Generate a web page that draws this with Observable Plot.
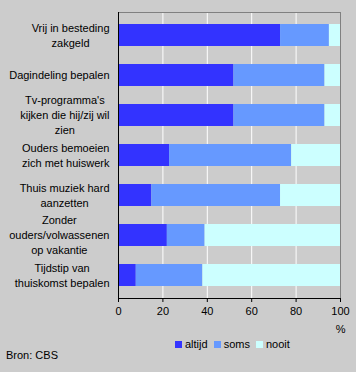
<!DOCTYPE html>
<html>
<head>
<meta charset="utf-8">
<script src="https://cdn.jsdelivr.net/npm/d3@7"></script>
<script src="https://cdn.jsdelivr.net/npm/@observablehq/plot@0.6"></script>
<style>
  html, body { margin: 0; padding: 0; background: #cccccc; }
  #wrap { position: relative; width: 356px; height: 372px; background: #cccccc; font-family: "Liberation Sans", Arial, sans-serif; color: #000; overflow: hidden; }
  #chart { position: absolute; left: 0; top: 0; }
  #legend { position: absolute; left: 175px; top: 338px; display: flex; align-items: center; font-size: 11px; }
  #legend .item { display: flex; align-items: center; margin-right: 6px; }
  #legend .sw { width: 7px; height: 7px; margin-right: 3px; }
  #caption { position: absolute; left: 6px; top: 349px; font-size: 11px; }
</style>
</head>
<body>
<div id="wrap">
  <div id="chart"></div>
  <div id="legend"></div>
  <div id="caption">Bron: CBS</div>
</div>
<script>
const categories = [
  "Vrij in besteding\nzakgeld",
  "Dagindeling bepalen",
  "Tv-programma's\nkijken die hij/zij wil\nzien",
  "Ouders bemoeien\nzich met huiswerk",
  "Thuis muziek hard\naanzetten",
  "Zonder\nouders/volwassenen\nop vakantie",
  "Tijdstip van\nthuiskomst bepalen"
];
const seriesNames = ["altijd", "soms", "nooit"];
const altijd = [73, 52, 52, 23, 15, 22, 8];
const soms   = [22, 41, 41, 55, 58, 17, 30];
const nooit  = [5, 7, 7, 22, 27, 61, 62];
const colors = ["#3333ff", "#6699ff", "#ccffff"];
const xTicks = [0, 20, 40, 60, 80, 100];

const seriesValues = [altijd, soms, nooit];
const data = [];
seriesNames.forEach((s, si) => {
  categories.forEach((c, ci) => data.push({category: c, series: s, value: seriesValues[si][ci]}));
});

const W = 356, mL = 118, mR = 16, labelGap = 9, lineStep = 15;
const pxPerUnit = (W - mL - mR) / 100;

// measure text so every line is centred inside a right-aligned label block
const ctx = document.createElement("canvas").getContext("2d");
ctx.font = "11px 'Liberation Sans', Arial, sans-serif";
function lineWidth(s) {
  let w = 0;
  try { w = ctx.measureText(s).width; } catch (e) { w = 0; }
  return w > 0 ? w : s.length * 5.5;
}
const lineRows = [];
categories.forEach(c => {
  const lines = c.split("\n");
  const widths = lines.map(lineWidth);
  const maxW = Math.max(...widths);
  lines.forEach((ln, i) => {
    const rightPx = -(labelGap + (maxW - widths[i]) / 2);
    lineRows.push({category: c, text: ln, xr: rightPx / pxPerUnit, off: (i - (lines.length - 1) / 2) * lineStep});
  });
});
const offsets = Array.from(new Set(lineRows.map(d => d.off)));
const labelMarks = offsets.map(o =>
  Plot.text(lineRows.filter(d => d.off === o), {
    x: "xr", y: "category", text: "text", dy: o,
    textAnchor: "end", lineAnchor: "middle", fontSize: 11, fill: "#000"
  })
);

const plot = Plot.plot({
  width: W,
  height: 338,
  marginLeft: mL,
  marginRight: mR,
  marginTop: 12,
  marginBottom: 40,
  style: {background: "transparent", fontFamily: "'Liberation Sans', Arial, sans-serif", fontSize: "11px", color: "#000"},
  x: {domain: [0, 100], ticks: xTicks},
  y: {domain: categories, paddingInner: 0.44, paddingOuter: 0.22, axis: null},
  color: {domain: seriesNames, range: colors},
  marks: [
    Plot.gridX(xTicks, {stroke: "white", strokeOpacity: 1, strokeWidth: 1}),
    Plot.barX(data, {y: "category", x: "value", fill: "series", order: seriesNames}),
    Plot.frame({stroke: "#808080"}),
    Plot.frame({anchor: "bottom", stroke: "#000"}),
    Plot.ruleX([0], {stroke: "#000"}),
    Plot.axisX({ticks: xTicks, tickSize: 4, tickPadding: 5, label: null, stroke: "#000"}),
    ...labelMarks,
    Plot.text(["%"], {frameAnchor: "bottom-right", dy: 34, dx: 5, fontSize: 11})
  ]
});
document.getElementById("chart").appendChild(plot);

const legend = document.getElementById("legend");
seriesNames.forEach((s, i) => {
  const item = document.createElement("div");
  item.className = "item";
  item.innerHTML = `<div class="sw" style="background:${colors[i]}"></div><span>${s}</span>`;
  legend.appendChild(item);
});
</script>
</body>
</html>
